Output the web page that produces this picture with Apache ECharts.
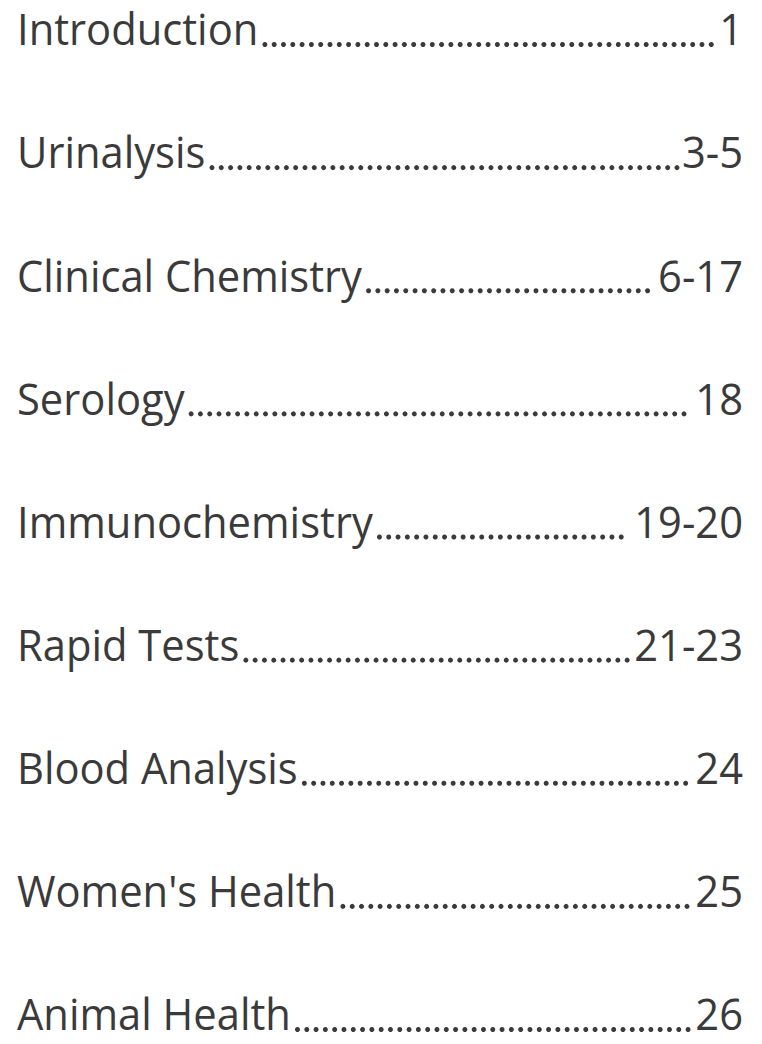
<!DOCTYPE html>
<html>
<head>
<meta charset="utf-8">
<script src="https://cdn.jsdelivr.net/npm/echarts@6/dist/echarts.min.js"></script>
<style>
html,body{margin:0;padding:0;background:#fff;}
#chart{width:762px;height:1044px;}
</style>
</head>
<body>
<div id="chart"></div>
<script>
const titles = ['Introduction', 'Urinalysis', 'Clinical Chemistry', 'Serology', 'Immunochemistry', 'Rapid Tests', 'Blood Analysis', "Women's Health", 'Animal Health'];
const pages = ['1', '3-5', '6-17', '18', '19-20', '21-23', '24', '25', '26'];

const FONT_SIZE = 43;
const FONT_FAMILY = '"Open Sans"';
const SCALE_X = 0.97;
const TEXT_COLOR = '#3a3a3a';
const DOT_STEP = 9.3;
const DOT_R = 2.5;
const BASELINE_OFFSET = 40; // distance from text top to baseline (empirical)

const mctx = document.createElement('canvas').getContext('2d');
mctx.font = FONT_SIZE + 'px ' + FONT_FAMILY;
function textW(s) { return mctx.measureText(s).width * SCALE_X; }

const chart = echarts.init(document.getElementById('chart'), null, { renderer: 'svg' });

const option = {
  backgroundColor: '#ffffff',
  animation: false,
  // rows: baselines from top to bottom of the grid
  grid: { left: 17, right: 19, top: 47, bottom: 12, containLabel: false },
  xAxis: { type: 'value', min: 0, max: 1, show: false },
  yAxis: { type: 'value', min: 0, max: titles.length - 1, inverse: true, show: false },
  series: [{
    type: 'custom',
    data: titles.map((t, i) => [0, i]),
    renderItem: function (params, api) {
      const i = api.value(1);
      const pL = api.coord([0, i]);
      const pR = api.coord([1, i]);
      const y = pL[1];
      const title = titles[i];
      const page = pages[i];
      const tw = textW(title);
      const pw = textW(page);
      const children = [];
      children.push({
        type: 'text', x: pL[0], y: y - BASELINE_OFFSET, scaleX: SCALE_X,
        style: { text: title, x: 0, y: 0, fill: TEXT_COLOR, fontSize: FONT_SIZE, fontFamily: FONT_FAMILY, textAlign: 'left', textVerticalAlign: 'top' }
      });
      children.push({
        type: 'text', x: pR[0], y: y - BASELINE_OFFSET, scaleX: SCALE_X,
        style: { text: page, x: 0, y: 0, fill: TEXT_COLOR, fontSize: FONT_SIZE, fontFamily: FONT_FAMILY, textAlign: 'right', textVerticalAlign: 'top' }
      });
      const start = pL[0] + tw + 4;
      const end = pR[0] - pw - 2;
      for (let x = start + DOT_R; x <= end - DOT_R; x += DOT_STEP) {
        children.push({ type: 'circle', shape: { cx: x, cy: y - DOT_R, r: DOT_R }, style: { fill: TEXT_COLOR } });
      }
      return { type: 'group', children: children };
    }
  }]
};
chart.setOption(option);
</script>
</body>
</html>
